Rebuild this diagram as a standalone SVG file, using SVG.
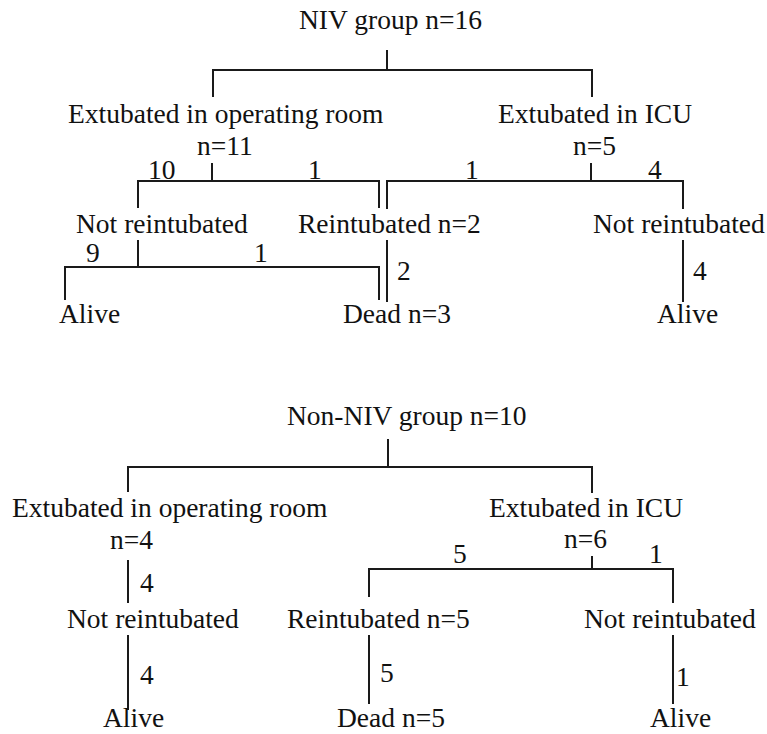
<svg xmlns="http://www.w3.org/2000/svg" width="767" height="734" viewBox="0 0 767 734">
<style>
text{font-family:"Liberation Serif","Times New Roman",serif;font-size:27.5px;fill:#111;}
.c{fill:none;stroke:#1a1a1a;stroke-width:2;stroke-linejoin:miter;}
</style>
<rect width="767" height="734" fill="#fff"/>
<g id="connectors">
<path class="c" d="M387,50V70M213,97V70H592V97"/>
<path class="c" d="M212,163V181M138,208V181H379V208"/>
<path class="c" d="M591,163V181M387,209V181H683V209"/>
<path class="c" d="M138,240V267M65,300V267H379V300"/>
<path class="c" d="M387,240V302"/>
<path class="c" d="M683,240V302"/>
<path class="c" d="M388,439V467M128,492V467H592V493"/>
<path class="c" d="M128,560V603"/>
<path class="c" d="M128,635V710"/>
<path class="c" d="M592,556V569M369,597V569H673V603"/>
<path class="c" d="M369,635V704"/>
<path class="c" d="M673,635V704"/>
</g>
<g id="edge-labels">
<text x="148" y="179">10</text>
<text x="308" y="179">1</text>
<text x="465" y="179">1</text>
<text x="648" y="179">4</text>
<text x="86" y="262">9</text>
<text x="254" y="262">1</text>
<text x="397" y="280">2</text>
<text x="693" y="280">4</text>
<text x="140" y="592">4</text>
<text x="140" y="684">4</text>
<text x="453" y="563">5</text>
<text x="649" y="563">1</text>
<text x="380" y="682">5</text>
<text x="676" y="686">1</text>
</g>
<g id="niv-root"><text x="299" y="29">NIV group n=16</text></g>
<g id="niv-or"><text x="68" y="123">Extubated in operating room</text><text x="197" y="155">n=11</text></g>
<g id="niv-icu"><text x="498" y="123">Extubated in ICU</text><text x="573" y="155">n=5</text></g>
<g id="niv-or-notre"><text x="76" y="233">Not reintubated</text></g>
<g id="niv-re"><text x="298" y="233">Reintubated n=2</text></g>
<g id="niv-icu-notre"><text x="593" y="233">Not reintubated</text></g>
<g id="niv-alive1"><text x="59" y="323">Alive</text></g>
<g id="niv-dead"><text x="343" y="323">Dead n=3</text></g>
<g id="niv-alive2"><text x="657" y="323">Alive</text></g>
<g id="non-root"><text x="287" y="425">Non-NIV group n=10</text></g>
<g id="non-or"><text x="12" y="517">Extubated in operating room</text><text x="110" y="549">n=4</text></g>
<g id="non-icu"><text x="489" y="517">Extubated in ICU</text><text x="564" y="548">n=6</text></g>
<g id="non-or-notre"><text x="67" y="628">Not reintubated</text></g>
<g id="non-re"><text x="287" y="628">Reintubated n=5</text></g>
<g id="non-icu-notre"><text x="584" y="628">Not reintubated</text></g>
<g id="non-alive1"><text x="103" y="727">Alive</text></g>
<g id="non-dead"><text x="337" y="727">Dead n=5</text></g>
<g id="non-alive2"><text x="650" y="727">Alive</text></g>
</svg>
